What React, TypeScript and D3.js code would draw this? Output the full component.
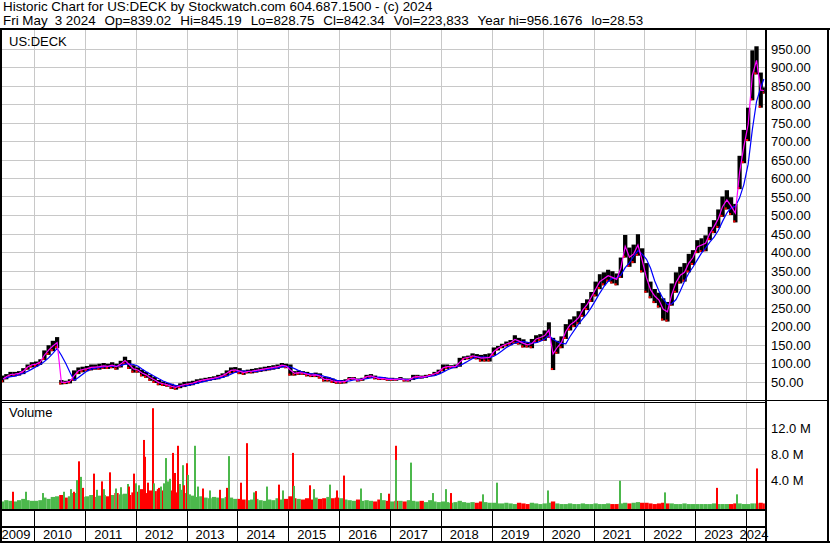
import React from 'react'
import * as d3 from 'd3'

const FONT = '"Liberation Sans", Arial, sans-serif'
const GRID = '#c8c8c8'
const UP = '#4cb84c'
const DOWN = '#ff0000'

const firstMonth = new Date(2009, 4, 1)
const lastDay = new Date(2024, 4, 4)

// monthly low / high, May 2009 .. May 2024 (prices are not split adjusted)
const priceLow = [
  48, 56, 62, 64, 66, 70, 82, 88,
  90, 95, 108, 122, 132, 140, 42, 43, 45, 52, 70, 75,
  78, 80, 82, 82, 84, 84, 86, 82, 88, 96, 84, 74,
  74, 64, 60, 52, 46, 40, 38, 36, 30, 28, 32, 35,
  38, 40, 44, 48, 50, 52, 54, 56, 60, 64, 72, 74,
  70, 68, 72, 72, 74, 76, 78, 80, 82, 84, 88, 86,
  66, 66, 68, 68, 64, 62, 62, 58, 50, 50, 46, 44,
  44, 45, 54, 55, 50, 52, 58, 60, 56, 54, 54, 52,
  52, 52, 54, 50, 50, 54, 60, 58, 60, 64, 66, 70,
  78, 84, 86, 86, 90, 108, 110, 112, 110, 104, 104, 104,
  120, 134, 140, 145, 148, 152, 150, 142, 142, 140, 155, 160,
  160, 168, 81, 125, 140, 165, 188, 197, 205, 225, 243, 265,
  280, 300, 310, 320, 315, 310, 330, 385, 360, 370, 390, 345,
  290, 275, 262, 250, 215, 212, 255, 290, 315, 320, 345, 365,
  397, 400, 402, 432, 451, 465, 495, 515, 500, 480, 570, 640,
  700, 810, 880, 790, 828,
]

const priceHigh = [
  66, 70, 76, 76, 78, 86, 96, 102,
  104, 110, 134, 148, 160, 170, 54, 52, 56, 80, 88, 90,
  92, 96, 96, 98, 100, 98, 102, 98, 106, 117, 108, 94,
  88, 82, 76, 68, 62, 54, 50, 46, 44, 40, 45, 49,
  50, 52, 56, 58, 60, 62, 64, 68, 72, 80, 88, 89,
  86, 80, 82, 84, 86, 88, 90, 92, 94, 96, 100, 98,
  96, 78, 80, 78, 76, 72, 74, 72, 62, 62, 58, 54,
  54, 56, 62, 62, 58, 60, 68, 70, 66, 62, 62, 60,
  60, 58, 62, 58, 58, 68, 68, 66, 68, 70, 76, 82,
  96, 96, 94, 96, 114, 118, 120, 126, 124, 122, 124, 126,
  142, 146, 152, 158, 162, 175, 168, 164, 156, 165, 175, 178,
  188, 210, 168, 160, 172, 205, 218, 226, 240, 262, 272, 292,
  320, 340, 345, 352, 348, 342, 385, 446, 412, 420, 448, 410,
  370, 320, 300, 290, 275, 265, 315, 345, 360, 370, 395, 405,
  432, 437, 445, 468, 486, 515, 550, 567, 548, 530, 660, 730,
  790, 945, 956, 885, 845,
]

// typical monthly volume, millions
const volBase = [
  0.7, 0.9, 0.8, 0.7, 0.9, 1.1, 0.9, 0.8,
  0.8, 0.9, 1.3, 1.1, 1.4, 1.5, 1.7, 1.3, 1.5, 2.0, 1.7, 1.4,
  1.5, 1.7, 1.4, 1.6, 1.7, 1.5, 1.7, 2.0, 1.8, 1.9, 1.7, 2.1,
  2.2, 2.6, 2.0, 2.4, 2.3, 2.6, 2.4, 2.2, 2.4, 2.1, 2.5, 2.0,
  1.8, 1.6, 1.4, 1.5, 1.3, 1.2, 1.4, 1.3, 1.2, 1.4, 1.3, 1.1,
  1.1, 1.0, 0.9, 1.0, 1.1, 0.9, 0.8, 1.0, 0.9, 1.2, 1.0, 1.1,
  1.5, 1.2, 1.1, 1.0, 1.2, 1.0, 1.3, 1.1, 1.2, 1.4, 1.2, 1.3,
  1.2, 1.0, 0.9, 0.8, 1.0, 0.8, 0.9, 0.8, 0.7, 1.0, 0.9, 0.8,
  0.7, 0.8, 0.8, 0.7, 0.9, 0.8, 0.7, 0.8, 0.6, 0.9, 0.7, 0.6,
  0.7, 0.6, 0.5, 0.6, 0.8, 0.6, 0.5, 0.6, 0.5, 0.7, 0.6, 0.5,
  0.5, 0.4, 0.4, 0.5, 0.4, 0.3, 0.5, 0.4, 0.3, 0.5, 0.4, 0.3,
  0.4, 0.5, 0.7, 0.4, 0.3, 0.3, 0.4, 0.3, 0.3, 0.4, 0.3, 0.3,
  0.4, 0.3, 0.3, 0.4, 0.3, 0.3, 0.4, 0.5, 0.4, 0.5, 0.6, 0.5,
  0.5, 0.4, 0.3, 0.4, 0.5, 0.4, 0.4, 0.3, 0.3, 0.4, 0.3, 0.3,
  0.3, 0.3, 0.3, 0.3, 0.4, 0.3, 0.3, 0.3, 0.3, 0.4, 0.4, 0.3,
  0.3, 0.4, 0.4, 0.5, 0.4,
]

// heavy volume days: date, millions, up/down
const volSpikes: [string, number, string][] = [
  ['2009-07-27', 2.2, 'd'], ['2009-10-27', 2.2, 'u'], ['2010-02-28', 2.0, 'u'],
  ['2010-07-27', 2.2, 'u'], ['2010-09-20', 2.6, 'u'], ['2010-10-08', 2.2, 'd'],
  ['2010-10-29', 4.0, 'u'], ['2010-11-12', 6.9, 'd'], ['2010-11-25', 4.5, 'u'],
  ['2010-12-15', 2.8, 'd'], ['2011-02-28', 5.0, 'd'], ['2011-03-20', 2.5, 'u'],
  ['2011-04-27', 3.8, 'd'], ['2011-05-10', 2.6, 'u'], ['2011-06-21', 5.2, 'd'],
  ['2011-08-04', 2.7, 'u'], ['2011-09-10', 2.9, 'u'], ['2011-10-30', 3.4, 'u'],
  ['2011-11-05', 3.0, 'd'], ['2011-12-13', 5.0, 'd'], ['2011-12-28', 3.5, 'u'],
  ['2012-01-15', 3.2, 'u'], ['2012-02-21', 10.2, 'd'], ['2012-02-28', 7.6, 'd'],
  ['2012-03-20', 3.6, 'd'], ['2012-04-26', 15.1, 'd'], ['2012-05-03', 3.5, 'u'],
  ['2012-06-08', 2.8, 'd'], ['2012-06-25', 3.0, 'u'], ['2012-07-16', 3.5, 'u'],
  ['2012-07-31', 7.4, 'u'], ['2012-08-14', 3.8, 'u'], ['2012-08-30', 4.2, 'u'],
  ['2012-09-17', 8.2, 'd'], ['2012-10-01', 5.1, 'd'], ['2012-10-23', 9.3, 'd'],
  ['2012-11-10', 3.4, 'u'], ['2012-11-29', 6.3, 'u'], ['2012-12-06', 3.2, 'd'],
  ['2012-12-27', 6.6, 'd'], ['2013-01-03', 4.8, 'u'], ['2013-02-24', 9.3, 'u'],
  ['2013-03-15', 3.0, 'u'], ['2013-04-21', 2.7, 'd'], ['2013-06-10', 2.4, 'u'],
  ['2013-08-20', 2.5, 'd'], ['2013-10-11', 2.8, 'd'], ['2013-10-25', 7.7, 'u'],
  ['2014-01-19', 3.6, 'd'], ['2014-03-04', 9.7, 'd'], ['2014-04-23', 2.1, 'u'],
  ['2014-05-10', 2.3, 'd'], ['2014-07-25', 3.0, 'u'], ['2014-10-20', 3.3, 'd'],
  ['2014-11-20', 2.4, 'u'], ['2015-01-26', 8.2, 'd'], ['2015-02-02', 3.1, 'u'],
  ['2015-05-27', 3.2, 'd'], ['2015-06-25', 2.6, 'u'], ['2015-10-20', 3.3, 'u'],
  ['2015-12-13', 2.4, 'd'], ['2016-01-26', 4.7, 'd'], ['2016-05-28', 2.7, 'u'],
  ['2016-10-19', 2.0, 'u'], ['2016-12-16', 1.9, 'd'], ['2017-02-06', 9.3, 'd'],
  ['2017-02-06', 7.1, 'u'], ['2017-05-24', 6.7, 'u'], ['2017-10-30', 2.0, 'u'],
  ['2018-01-30', 2.6, 'u'], ['2018-03-07', 2.0, 'd'], ['2018-10-23', 1.8, 'u'],
  ['2019-02-03', 3.6, 'u'], ['2020-02-01', 2.4, 'u'], ['2021-07-01', 3.9, 'u'],
  ['2022-05-20', 2.1, 'u'], ['2023-05-31', 2.8, 'd'], ['2023-10-24', 1.8, 'u'],
  ['2024-03-15', 5.8, 'd'],
]

const years = d3.range(2009, 2025)
const priceTicks = d3.range(50, 1000, 50)
const volTicks = [4, 8, 12]

const headerLine1 = 'Historic Chart for US:DECK by Stockwatch.com 604.687.1500 - (c) 2024'
const headerFields = [
  'Fri May',
  '3 2024',
  'Op=839.02',
  'Hi=845.19',
  'Lo=828.75',
  'Cl=842.34',
  'Vol=223,833',
  'Year hi=956.1676',
  'lo=28.53',
]

const PL = 2
const PR = 766

export default function App() {
  const x = d3
    .scaleTime()
    .domain([new Date(2010, 0, 1), new Date(2024, 0, 1)])
    .range([34, 746])
  const yP = d3.scaleLinear().domain([0, 1000]).range([400, 30])
  const yV = d3.scaleLinear().domain([0, 12]).range([506, 428.3])

  const months = priceLow.map((lo, i) => {
    const d0 = d3.timeMonth.offset(firstMonth, i)
    const d1 = i === priceLow.length - 1 ? lastDay : d3.timeMonth.offset(firstMonth, i + 1)
    const x0 = Math.max(PL, x(d0))
    const x1 = Math.max(Math.min(PR - 1, x(d1)), x0 + 2)
    const hi = priceHigh[i]
    return { x0, x1, xm: (x0 + x1) / 2, lo, hi, mid: (lo + hi) / 2, vol: volBase[i] }
  })
  const slow = months.map((_, i) => d3.mean(months.slice(Math.max(0, i - 3), i + 1), (m) => m.mid) as number)

  const fastLine = d3
    .line<(typeof months)[number]>()
    .x((m) => m.xm)
    .y((m) => yP(m.mid))
  const slowLine = d3
    .line<number>()
    .x((_, i) => months[i].xm)
    .y((v) => yP(v))

  const yearLines = years.slice(1).map((y) => Math.round(x(new Date(y, 0, 1))) + 0.5)

  return (
    <svg
      width={830}
      height={543}
      style={{ position: 'absolute', left: 0, top: 0, background: '#fff' }}
      fontFamily={FONT}
      fontSize={13}
    >
      <rect x={0} y={0} width={830} height={543} fill="#fff" />
      <text x={3} y={11} fontSize={13.4}>
        {headerLine1}
      </text>
      <text x={3} y={25} fontSize={13.4}>
        {headerFields.map((f, i) => (
          <tspan key={i} dx={i === 0 ? 0 : i === 1 ? 7 : 9}>
            {f}
          </tspan>
        ))}
      </text>

      {/* grid */}
      <g stroke={GRID} strokeWidth={1}>
        {yearLines.map((gx, i) => (
          <g key={i}>
            <line x1={gx} x2={gx} y1={30} y2={400} />
            <line x1={gx} x2={gx} y1={403} y2={509} />
          </g>
        ))}
        {priceTicks.map((v) => (
          <line key={v} x1={PL} x2={PR - 1} y1={Math.round(yP(v)) + 0.5} y2={Math.round(yP(v)) + 0.5} />
        ))}
        {volTicks.map((v) => (
          <line key={v} x1={PL} x2={PR - 1} y1={Math.round(yV(v)) + 0.5} y2={Math.round(yV(v)) + 0.5} />
        ))}
      </g>

      {/* price bars */}
      {months.map((m, i) => (
        <g key={i}>
          <rect x={m.x0} y={yP(m.hi)} width={m.x1 - m.x0} height={yP(m.lo) - yP(m.hi)} fill="#000" />
          <rect x={m.x0} y={yP(m.lo) - 2} width={(m.x1 - m.x0) / 2} height={2} fill={DOWN} />
        </g>
      ))}
      <path d={slowLine(slow) || ''} fill="none" stroke="#0000ff" strokeWidth={1.2} />
      <path d={fastLine(months) || ''} fill="none" stroke="#ff00ff" strokeWidth={1.2} />

      {/* volume */}
      {months.map((m, i) => (
        <rect
          key={i}
          x={m.x0}
          y={yV(m.vol)}
          width={m.x1 - m.x0}
          height={509 - yV(m.vol)}
          fill={i > 0 && m.mid < months[i - 1].mid ? DOWN : UP}
        />
      ))}
      {volSpikes.map(([d, v, dir], i) => (
        <rect
          key={i}
          x={Math.round(x(new Date(d)))}
          y={yV(v)}
          width={2}
          height={509 - yV(v)}
          fill={dir === 'u' ? UP : DOWN}
        />
      ))}

      {/* frame */}
      <g fill="#000">
        <rect x={0} y={28} width={830} height={2} />
        <rect x={0} y={28} width={2} height={515} />
        <rect x={827} y={28} width={2} height={515} />
        <rect x={0} y={541} width={830} height={2} />
        <rect x={765} y={28} width={2} height={515} />
        <rect x={0} y={400} width={829} height={1} />
        <rect x={0} y={402} width={766} height={1} />
        <rect x={0} y={509} width={766} height={2} />
        <rect x={0} y={526} width={766} height={2} />
      </g>
      <g stroke="#000" strokeWidth={1}>
        {yearLines.map((gx, i) => (
          <line key={i} x1={gx} x2={gx} y1={511} y2={541} />
        ))}
      </g>

      <text x={9} y={46}>US:DECK</text>
      <text x={9} y={417}>Volume</text>

      {priceTicks.map((v) => (
        <text key={v} x={771} y={yP(v) + 5}>
          {d3.format('.2f')(v)}
        </text>
      ))}
      {volTicks.map((v) => (
        <text key={v} x={771} y={yV(v) + 5}>
          {`${v.toFixed(1)} M`}
        </text>
      ))}

      {years.map((y) => {
        const a = Math.max(PL, x(new Date(y, 0, 1)))
        const b = Math.min(PR, x(new Date(y + 1, 0, 1)))
        return (
          <text key={y} x={(a + b) / 2 - 2} y={539} textAnchor="middle">
            {y}
          </text>
        )
      })}
    </svg>
  )
}
